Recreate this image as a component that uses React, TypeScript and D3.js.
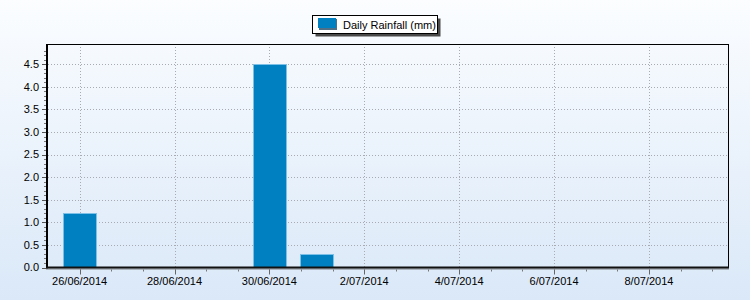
import React from "react";
import * as d3 from "d3";

const dates: string[] = [
  "2014-06-26", "2014-06-27", "2014-06-28", "2014-06-29", "2014-06-30",
  "2014-07-01", "2014-07-02", "2014-07-03", "2014-07-04", "2014-07-05",
  "2014-07-06", "2014-07-07", "2014-07-08", "2014-07-09",
];
const rainfall: number[] = [1.2, 0, 0, 0, 4.5, 0.3, 0, 0, 0, 0, 0, 0, 0, 0];
const seriesName = "Daily Rainfall (mm)";
const yTicks: number[] = [0, 0.5, 1, 1.5, 2, 2.5, 3, 3.5, 4, 4.5];

const W = 750, H = 300;
const M = { left: 48, right: 22, top: 44, bottom: 32.5 };
const DAY = 86400000;
const FONT = "'Liberation Sans', Arial, sans-serif";

const parse = (s: string) => {
  const [y, m, d] = s.split("-").map(Number);
  return new Date(Date.UTC(y, m - 1, d));
};

export default function App() {
  const ds = dates.map(parse);
  const start = new Date(ds[0].getTime() - (2 / 3) * DAY);
  const end = new Date(ds[ds.length - 1].getTime() + (2 / 3) * DAY);
  const x = d3.scaleUtc().domain([start, end]).range([M.left, W - M.right]);
  const y = d3.scaleLinear().domain([0, 4.95]).range([H - M.bottom, M.top]);
  const barW = 0.7 * (x(new Date(DAY)) - x(new Date(0)));
  const fmt = d3.utcFormat("%-d/%m/%Y");

  const majorX: Date[] = [];
  for (let t = ds[0].getTime(); t <= end.getTime(); t += 2 * DAY) majorX.push(new Date(t));
  const minorX: Date[] = [];
  for (let t = ds[0].getTime(); t <= end.getTime(); t += (2 / 3) * DAY) minorX.push(new Date(t));
  const minorY = d3.range(0, 49).map((i) => i / 10);

  const x0 = M.left, x1 = W - M.right, y0 = H - M.bottom, y1 = M.top;

  return (
    <svg width={W} height={H} style={{ position: "absolute", left: 0, top: 0 }} fontFamily={FONT}>
      <defs>
        <linearGradient id="bg" x1="0" y1="0" x2="0" y2="1">
          <stop offset="0" stopColor="#fbfdff" />
          <stop offset="1" stopColor="#dae8f8" />
        </linearGradient>
      </defs>
      <rect x={0} y={0} width={W} height={H} fill="url(#bg)" />

      {/* grid */}
      {yTicks.filter((v) => v > 0).map((v) => (
        <line key={"gy" + v} x1={x0} x2={x1} y1={Math.round(y(v)) + 0.5} y2={Math.round(y(v)) + 0.5}
          stroke="#a8acb2" strokeDasharray="1,2" />
      ))}
      {majorX.map((d, i) => (
        <line key={"gx" + i} x1={Math.round(x(d)) + 0.5} x2={Math.round(x(d)) + 0.5} y1={y1} y2={y0}
          stroke="#a8acb2" strokeDasharray="1,2" />
      ))}

      {/* bars */}
      {ds.map((d, i) => {
        const top = Math.round(y(rainfall[i])) + 0.5;
        const h = y0 - top;
        if (rainfall[i] <= 0) return null;
        const left = Math.round(x(d) - barW / 2) + 0.5;
        return (
          <rect key={"b" + i} x={left} y={top} width={Math.round(barW)} height={h}
            fill="#0080c0" stroke="#7cc0e8" strokeWidth={1} />
        );
      })}

      {/* frame */}
      <line x1={x0} x2={x1 + 0.5} y1={y1 + 0.5} y2={y1 + 0.5} stroke="#000" />
      <line x1={x1 + 0.5} x2={x1 + 0.5} y1={y1} y2={y0} stroke="#000" />
      <line x1={x0 - 1} x2={x0 - 1} y1={y1} y2={y0 + 1} stroke="#000" strokeWidth={2} />
      <line x1={x0 - 2} x2={x1 + 1} y1={y0 + 1.5} y2={y0 + 1.5} stroke="#7d8086" strokeWidth={1} />
      <line x1={x0 - 2} x2={x1 + 1} y1={y0} y2={y0} stroke="#111" strokeWidth={2} />

      {/* y ticks */}
      {minorY.map((v) => (
        <line key={"my" + v} x1={x0 - 4} x2={x0 - 2} y1={Math.round(y(v)) + 0.5} y2={Math.round(y(v)) + 0.5}
          stroke="#777" />
      ))}
      {yTicks.map((v) => (
        <g key={"ty" + v}>
          <line x1={x0 - 6} x2={x0 - 2} y1={Math.round(y(v)) + 0.5} y2={Math.round(y(v)) + 0.5} stroke="#555" />
          <text x={x0 - 9} y={y(v)} dy="0.35em" textAnchor="end" fontSize={11} fill="#000">
            {d3.format(".1f")(v)}
          </text>
        </g>
      ))}

      {/* x ticks */}
      {minorX.map((d, i) => (
        <line key={"mx" + i} x1={Math.round(x(d)) + 0.5} x2={Math.round(x(d)) + 0.5} y1={y0 + 2} y2={y0 + 4}
          stroke="#777" />
      ))}
      {majorX.map((d, i) => (
        <g key={"tx" + i}>
          <line x1={Math.round(x(d)) + 0.5} x2={Math.round(x(d)) + 0.5} y1={y0 + 2} y2={y0 + 7} stroke="#666" />
          <text x={x(d)} y={y0 + 17} textAnchor="middle" fontSize={11} fill="#000">{fmt(d)}</text>
        </g>
      ))}

      {/* legend */}
      <rect x={315.5} y={18.5} width={125} height={18} fill="#4a4a4a" />
      <rect x={312.5} y={15.5} width={125} height={18} fill="#fff" stroke="#000" />
      <rect x={319} y={19} width={18} height={11} fill="#4f6f86" />
      <rect x={318} y={18} width={18} height={10} fill="#0080c0" />
      <text x={343} y={28.5} fontSize={11} fill="#000">{seriesName}</text>
    </svg>
  );
}
